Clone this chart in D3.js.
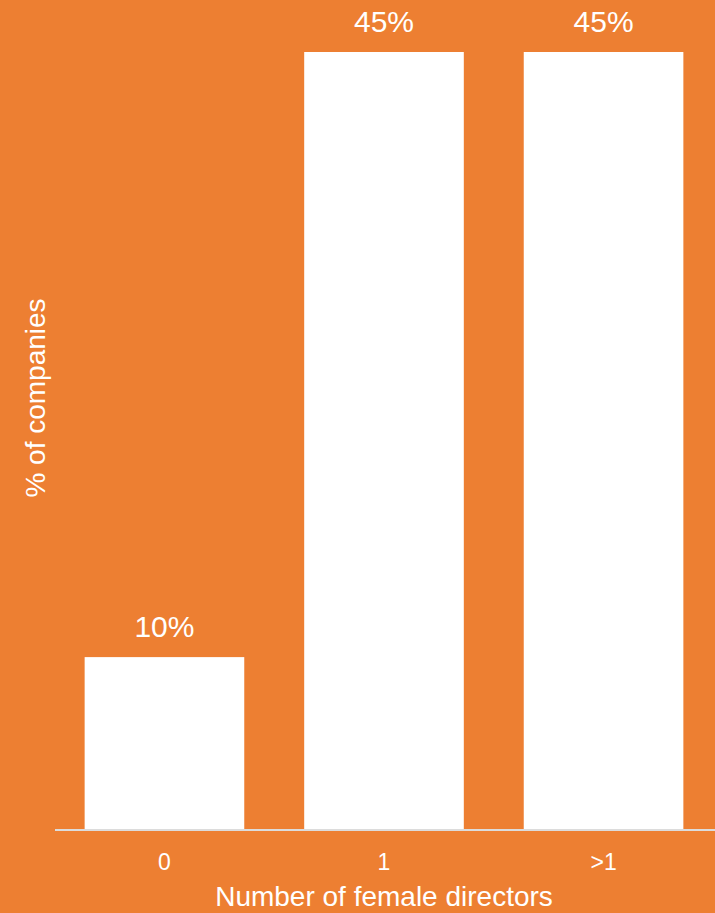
<!DOCTYPE html>
<html>
<head>
<meta charset="utf-8">
<script src="https://cdn.jsdelivr.net/npm/d3@7"></script>
<style>
  html, body { margin: 0; padding: 0; background: #ed7f32; }
  svg { display: block; font-family: "Liberation Sans", Arial, sans-serif; }
</style>
</head>
<body>
<div id="chart"></div>
<script>
// Share of companies by number of female directors
const categories = ["0", "1", ">1"];
const values = [10, 45, 45];
const valueLabels = ["10%", "45%", "45%"];

const width = 715, height = 913;
const margin = { top: 52, right: 2, bottom: 83, left: 55 };

const svg = d3.select("#chart").append("svg")
  .attr("width", width).attr("height", height);

svg.append("rect").attr("width", width).attr("height", height).attr("fill", "#ed7f32");

const x = d3.scaleBand().domain(categories)
  .range([margin.left, width - margin.right])
  .paddingInner(0.273).paddingOuter(0.135);
const y = d3.scaleLinear().domain([0, 45])
  .range([height - margin.bottom, margin.top]);

const data = categories.map((c, i) => ({ cat: c, v: values[i], label: valueLabels[i] }));

svg.append("g").selectAll("rect").data(data).join("rect")
  .attr("x", d => x(d.cat)).attr("width", x.bandwidth())
  .attr("y", d => y(d.v)).attr("height", d => y(0) - y(d.v))
  .attr("fill", "#fff");

svg.append("g").selectAll("text").data(data).join("text")
  .attr("x", d => x(d.cat) + x.bandwidth() / 2)
  .attr("y", d => y(d.v) - 20)
  .attr("text-anchor", "middle").attr("fill", "#fff")
  .attr("font-size", 30).text(d => d.label);

// baseline + category ticks
const gX = svg.append("g").attr("transform", `translate(0,${y(0)})`)
  .call(d3.axisBottom(x).tickSize(0).tickPadding(24));
gX.select(".domain").attr("stroke", "#dcdcdc").attr("stroke-width", 2)
  .attr("d", `M${margin.left},0H${width}`);
gX.selectAll(".tick text").attr("fill", "#fff").attr("font-size", 23)
  .attr("font-family", "Liberation Sans, Arial, sans-serif");

svg.append("text")
  .attr("x", 384).attr("y", 906)
  .attr("text-anchor", "middle").attr("fill", "#fff").attr("font-size", 28)
  .text("Number of female directors");

svg.append("text")
  .attr("transform", "translate(45,398) rotate(-90)")
  .attr("text-anchor", "middle").attr("fill", "#fff").attr("font-size", 28)
  .text("% of companies");
</script>
</body>
</html>
